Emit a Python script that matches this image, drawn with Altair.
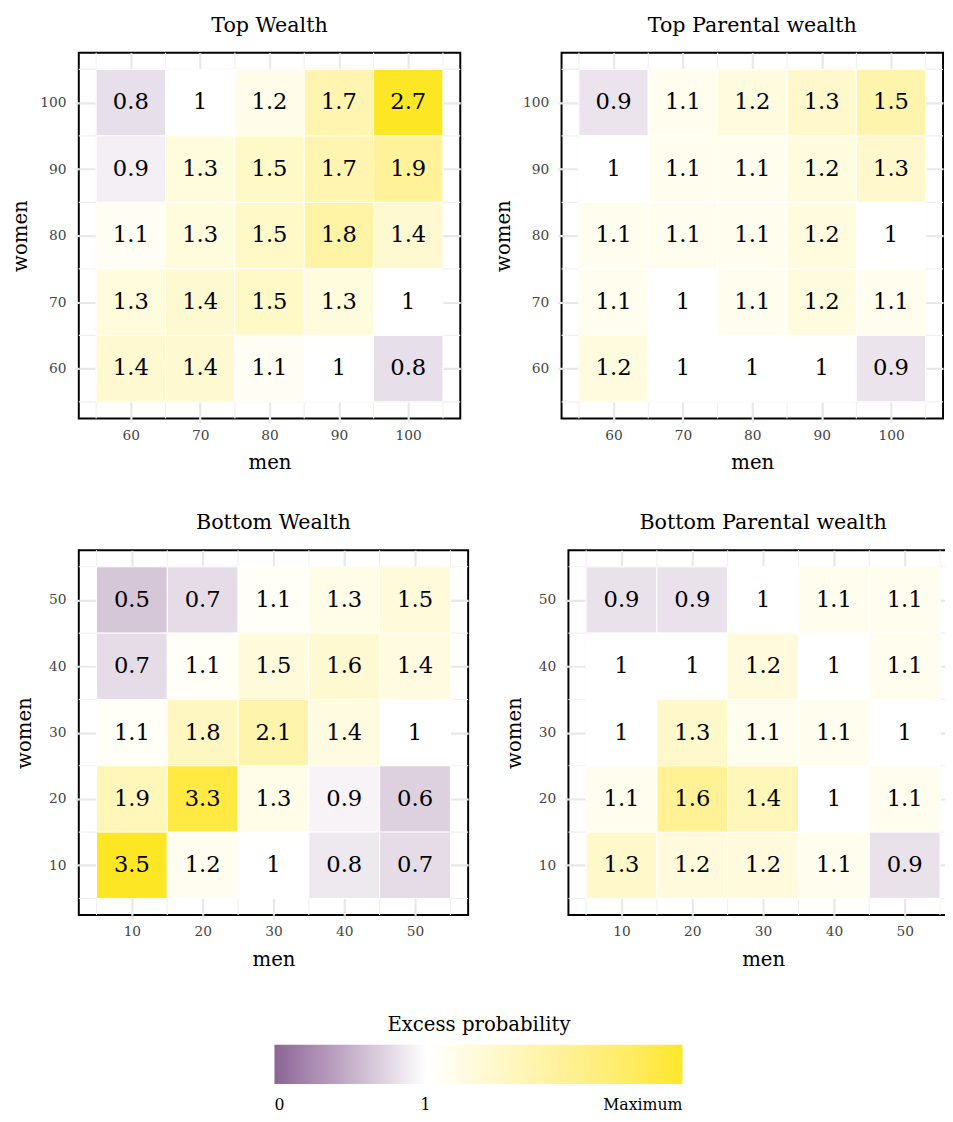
import altair as alt
import pandas as pd

FONT = "DejaVu Serif"
PURPLE = "#8b6595"
YELLOW = "#fde725"

# ---- data ----
top_men = [60, 70, 80, 90, 100]
top_women = [100, 90, 80, 70, 60]          # rows, top to bottom
top_minor = [55, 65, 75, 85, 95, 105]
bottom_men = [10, 20, 30, 40, 50]
bottom_women = [50, 40, 30, 20, 10]
bottom_minor = [5, 15, 25, 35, 45, 55]

top_wealth = [
    [0.8, 1.0, 1.2, 1.7, 2.7],
    [0.9, 1.3, 1.5, 1.7, 1.9],
    [1.1, 1.3, 1.5, 1.8, 1.4],
    [1.3, 1.4, 1.5, 1.3, 1.0],
    [1.4, 1.4, 1.1, 1.0, 0.8],
]
top_parental = [
    [0.9, 1.1, 1.2, 1.3, 1.5],
    [1.0, 1.1, 1.1, 1.2, 1.3],
    [1.1, 1.1, 1.1, 1.2, 1.0],
    [1.1, 1.0, 1.1, 1.2, 1.1],
    [1.2, 1.0, 1.0, 1.0, 0.9],
]
bottom_wealth = [
    [0.5, 0.7, 1.1, 1.3, 1.5],
    [0.7, 1.1, 1.5, 1.6, 1.4],
    [1.1, 1.8, 2.1, 1.4, 1.0],
    [1.9, 3.3, 1.3, 0.9, 0.6],
    [3.5, 1.2, 1.0, 0.8, 0.7],
]
bottom_parental = [
    [0.9, 0.9, 1.0, 1.1, 1.1],
    [1.0, 1.0, 1.2, 1.0, 1.1],
    [1.0, 1.3, 1.1, 1.1, 1.0],
    [1.1, 1.6, 1.4, 1.0, 1.1],
    [1.3, 1.2, 1.2, 1.1, 0.9],
]

legend_values = [0, 1, 2.7]
legend_labels = ["0", "1", "Maximum"]


def make_df(matrix, men, women):
    recs = []
    for i, w in enumerate(women):
        for j, m in enumerate(men):
            recs.append({"men": m, "women": w, "value": matrix[i][j]})
    return pd.DataFrame(recs)


def major_axis(title, vals, title_pad, label_pad):
    return alt.Axis(
        title=title,
        values=vals,
        labelOverlap=False,
        labelFlush=False,
        domain=False,
        grid=True,
        gridColor="#e8e8e8",
        gridWidth=2.2,
        tickColor="#e8e8e8",
        tickWidth=2.2,
        tickSize=4,
        labelFont=FONT,
        labelFontSize=14,
        labelColor="#444444",
        labelPadding=label_pad,
        titleFont=FONT,
        titleFontSize=20,
        titleFontWeight="normal",
        titleColor="black",
        titlePadding=title_pad,
    )


def panel(title, matrix, men, women, minor, lo, hi, w, h, ytitle_pad):
    df = make_df(matrix, men, women)
    minor_df = pd.DataFrame({"pos": minor})
    xs = alt.Scale(domain=[min(men) - 7.5, max(men) + 7.5], nice=False, zero=False)
    ys = alt.Scale(domain=[min(women) - 7.5, max(women) + 7.5], nice=False, zero=False)
    xax = major_axis("men", men, 11, 6)
    yax = major_axis("women", sorted(women), ytitle_pad, 9)

    vrules = alt.Chart(minor_df).mark_rule(color="#f0f0f0", strokeWidth=1.1).encode(
        x=alt.X("pos:Q", scale=xs, axis=xax),
    )
    hrules = alt.Chart(minor_df).mark_rule(color="#f0f0f0", strokeWidth=1.1).encode(
        y=alt.Y("pos:Q", scale=ys, axis=yax),
    )
    base = alt.Chart(df).transform_calculate(
        mx0="datum.men - 5", mx1="datum.men + 5",
        wy0="datum.women - 5", wy1="datum.women + 5",
        t="datum.value < 1 ? 0.5 * (datum.value - %f) / (1 - %f) : 0.5 + 0.5 * (datum.value - 1) / (%f - 1)"
          % (lo, lo, hi),
    )
    rect = base.mark_rect(stroke="white", strokeWidth=1).encode(
        x=alt.X("mx0:Q", scale=xs, axis=xax),
        x2="mx1:Q",
        y=alt.Y("wy0:Q", scale=ys, axis=yax),
        y2="wy1:Q",
        color=alt.Color(
            "t:Q",
            scale=alt.Scale(domain=[0, 0.5, 1], range=[PURPLE, "#ffffff", YELLOW],
                            interpolate="lab", nice=False, zero=False),
            legend=None,
        ),
    )
    text = base.mark_text(font=FONT, fontSize=23, color="black").encode(
        x=alt.X("men:Q", scale=xs, axis=xax),
        y=alt.Y("women:Q", scale=ys, axis=yax),
        text=alt.Text("value:Q", format=".1~f"),
    )
    return alt.layer(vrules, hrules, rect, text).properties(
        width=w, height=h,
        title=alt.Title(title, font=FONT, fontSize=21, fontWeight="normal",
                        anchor="middle", offset=17, color="black"),
    )


tl = panel("Top Wealth", top_wealth, top_men, top_women, top_minor, 0, 2.7, 388, 372, 9)
tr = panel("Top Parental wealth", top_parental, top_men, top_women, top_minor, 0.4, 2.15, 388, 372, 9)
bl = panel("Bottom Wealth", bottom_wealth, bottom_men, bottom_women, bottom_minor, -0.4, 3.5, 396, 371, 14)
br = panel("Bottom Parental wealth", bottom_parental, bottom_men, bottom_women, bottom_minor, 0.45, 2.1, 396, 371, 14)

leg_df = pd.DataFrame({"v": [legend_values[0], legend_values[-1]]})
label_expr = ("datum.value == 0 ? '%s' : datum.value == 1 ? '%s' : '%s'"
              % tuple(legend_labels))
legend_chart = alt.Chart(leg_df).mark_point(opacity=0).encode(
    color=alt.Color(
        "v:Q",
        scale=alt.Scale(domain=legend_values, range=[PURPLE, "#ffffff", YELLOW], interpolate="lab"),
        legend=alt.Legend(
            title="Excess probability",
            orient="none",
            legendX=199,
            legendY=5,
            direction="horizontal",
            gradientLength=415,
            gradientThickness=40,
            gradientStrokeWidth=0,
            values=legend_values,
            labelExpr=label_expr,
            labelAlign="center",
            labelFont=FONT,
            labelFontSize=16,
            labelColor="black",
            labelOffset=13,
            titleFont=FONT,
            titleFontSize=20,
            titleFontWeight="normal",
            titleColor="black",
            titleAnchor="middle",
            titlePadding=10,
            titleLimit=500,
        ),
    ),
).properties(width=415, height=1, view=alt.ViewBackground(stroke="transparent"))

row1 = alt.hconcat(tl, tr, spacing=31)
row2 = alt.hconcat(bl, br, spacing=34)
chart = alt.vconcat(row1, row2, legend_chart, spacing=38).resolve_scale(
    color="independent"
).configure_view(stroke="black", strokeWidth=2).configure_axis(
    labelFont=FONT, labelFontSize=14, labelColor="#444444",
    titleFont=FONT, titleFontSize=20, titleFontWeight="normal", titleColor="black",
).properties(
    padding={"top": -4, "left": 2, "right": -15, "bottom": -3}
)

chart.save("out.html", embed_options={"renderer": "svg", "actions": False})
